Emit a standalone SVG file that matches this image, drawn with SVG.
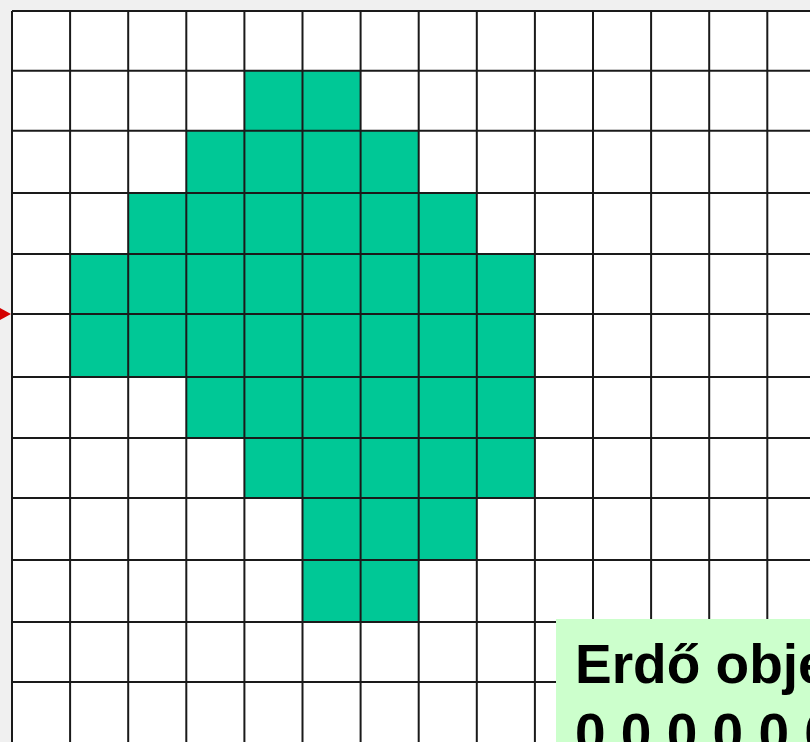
<svg xmlns="http://www.w3.org/2000/svg" width="810" height="742" viewBox="0 0 810 742">
<style>
.cell{fill:#00c896;}
.grid line{stroke:#1a1a1a;stroke-width:2;}
.label{font-family:"Liberation Sans",Arial,sans-serif;font-weight:bold;font-size:55px;fill:#000;}
</style>
<rect x="0" y="0" width="810" height="742" fill="#f0f0f0"/>
<rect x="12" y="11" width="798" height="731" fill="#ffffff"/>
<g id="forest">
<rect class="cell" x="244" y="70.7" width="116.2" height="60"/>
<rect class="cell" x="186" y="130.7" width="232.4" height="62.3"/>
<rect class="cell" x="128" y="193" width="348.5" height="61"/>
<rect class="cell" x="70" y="254" width="464.6" height="123"/>
<rect class="cell" x="186" y="377" width="348.6" height="61"/>
<rect class="cell" x="244" y="438" width="290.6" height="60"/>
<rect class="cell" x="302" y="498" width="174.5" height="62"/>
<rect class="cell" x="302" y="560" width="116.4" height="62"/>
</g>
<g class="grid" id="grid">
<line x1="12" y1="11" x2="12" y2="742"/>
<line x1="70.1" y1="11" x2="70.1" y2="742"/>
<line x1="128.2" y1="11" x2="128.2" y2="742"/>
<line x1="186.3" y1="11" x2="186.3" y2="742"/>
<line x1="244.4" y1="11" x2="244.4" y2="742"/>
<line x1="302.5" y1="11" x2="302.5" y2="742"/>
<line x1="360.6" y1="11" x2="360.6" y2="742"/>
<line x1="418.7" y1="11" x2="418.7" y2="742"/>
<line x1="476.8" y1="11" x2="476.8" y2="742"/>
<line x1="534.9" y1="11" x2="534.9" y2="742"/>
<line x1="593" y1="11" x2="593" y2="742"/>
<line x1="651.1" y1="11" x2="651.1" y2="742"/>
<line x1="709.2" y1="11" x2="709.2" y2="742"/>
<line x1="767.3" y1="11" x2="767.3" y2="742"/>
<line x1="12" y1="11" x2="810" y2="11"/>
<line x1="12" y1="70.7" x2="810" y2="70.7"/>
<line x1="12" y1="130.7" x2="810" y2="130.7"/>
<line x1="12" y1="193" x2="810" y2="193"/>
<line x1="12" y1="254" x2="810" y2="254"/>
<line x1="12" y1="314" x2="810" y2="314"/>
<line x1="12" y1="377" x2="810" y2="377"/>
<line x1="12" y1="438" x2="810" y2="438"/>
<line x1="12" y1="498" x2="810" y2="498"/>
<line x1="12" y1="560" x2="810" y2="560"/>
<line x1="12" y1="622" x2="810" y2="622"/>
<line x1="12" y1="682" x2="810" y2="682"/>
</g>
<g id="connectors">
<polygon points="0,308 11,314 0,320" fill="#d40000"/>
</g>
<g id="label-box">
<rect x="556" y="619" width="254" height="123" fill="#ccffcc"/>
<text class="label" x="575" y="683">Erdő obje</text>
<text class="label" x="575" y="752">0 0 0 0 0 0</text>
</g>
</svg>
